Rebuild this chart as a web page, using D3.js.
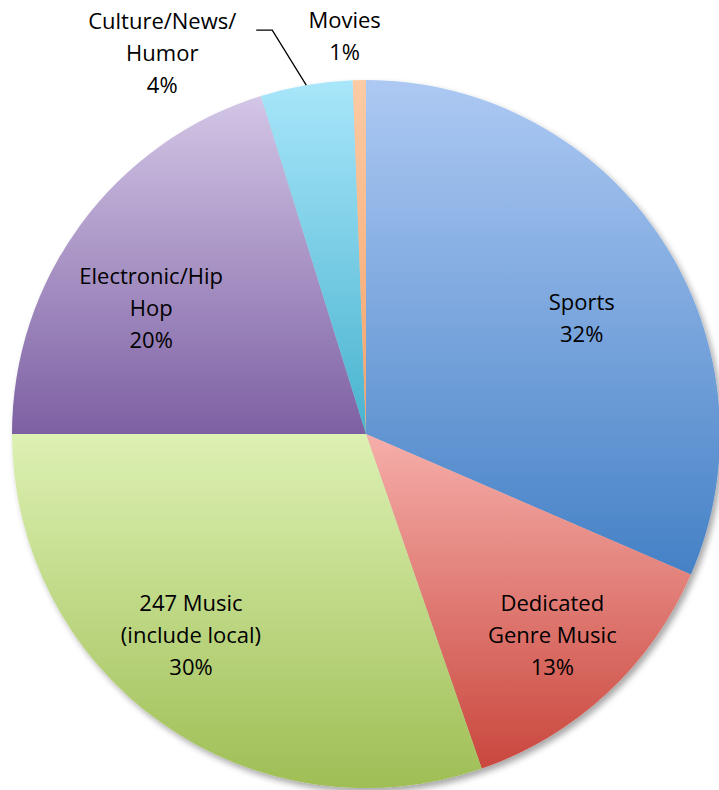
<!DOCTYPE html>
<html>
<head>
<meta charset="utf-8">
<script src="https://cdn.jsdelivr.net/npm/d3@7/dist/d3.min.js"></script>
<style>
  body { margin: 0; background: #ffffff; }
  svg { display: block; }
  text { font-family: "Open Sans", Lato, sans-serif; font-size: 22px; fill: #000; }
</style>
</head>
<body>
<div id="main_output"></div>
<script>
// slice data, clockwise from 12 o'clock
const categories = ["Sports", "Dedicated Genre Music", "247 Music (include local)", "Electronic/Hip Hop", "Culture/News/Humor", "Movies"];
const values = [31.5, 13.2, 30.3, 20.2, 4.2, 0.6];
const pctLabels = ["32%", "13%", "30%", "20%", "4%", "1%"];
const labelLines = [
  ["Sports"],
  ["Dedicated", "Genre Music"],
  ["247 Music", "(include local)"],
  ["Electronic/Hip", "Hop"],
  ["Culture/News/", "Humor"],
  ["Movies"]
];

// office-ish colours: light top -> base bottom
const topColours = ["#adc9f3", "#f6aeaa", "#ddf1b3", "#d3c6e6", "#a9e6fa", "#fbcba5"];
const bottomColours = ["#4581c6", "#c9473d", "#9fbe55", "#7d60a3", "#48b3cf", "#f4a268"];

const W = 719, H = 790;
const cx = 366, cy = 434, radius = 354;
const lineH = 32;

var svg = d3.select("#main_output").append("svg")
  .attr("width", W)
  .attr("height", H);

var defs = svg.append("defs");

var shadow = defs.append("filter")
  .attr("id", "shadow")
  .attr("x", "-10%").attr("y", "-10%")
  .attr("width", "120%").attr("height", "120%");
shadow.append("feDropShadow")
  .attr("dx", 3).attr("dy", 4)
  .attr("stdDeviation", 3)
  .attr("flood-color", "#000")
  .attr("flood-opacity", 0.35);

categories.forEach(function(c, i) {
  var g = defs.append("linearGradient")
    .attr("id", "grad" + i)
    .attr("x1", 0).attr("y1", 0)
    .attr("x2", 0).attr("y2", 1);
  g.append("stop").attr("offset", "0%").attr("stop-color", topColours[i]);
  g.append("stop").attr("offset", "100%").attr("stop-color", bottomColours[i]);
});

var pie = d3.pie().sort(null).value(function(d) { return d; });
var arcs = pie(values);

var arc = d3.arc().innerRadius(0).outerRadius(radius);

var chart = svg.append("g")
  .attr("transform", "translate(" + cx + "," + cy + ")");

chart.append("g")
  .attr("filter", "url(#shadow)")
  .selectAll("path")
  .data(arcs)
  .enter()
  .append("path")
  .attr("d", arc)
  .attr("fill", function(d, i) { return "url(#grad" + i + ")"; });

// label placement: radius and angle nudge for each slice (Excel best fit look)
const labelRadius = [245, 274, 267, 249, 0, 398];
const labelAngleShift = [5, 0, 5.5, -6, 0, -2];

function polar(angleDeg, r) {
  var a = angleDeg * Math.PI / 180;
  return [r * Math.sin(a), -r * Math.cos(a)];
}

arcs.forEach(function(d, i) {
  var mid = (d.startAngle + d.endAngle) / 2 * 180 / Math.PI;
  var lines = labelLines[i].concat([pctLabels[i]]);
  var pos;
  if (i === 4) {
    // outside label with leader line
    var edge = polar(mid, radius);
    var elbow = [edge[0] - 34, edge[1] - 55];
    var end = [elbow[0] - 16, elbow[1]];
    chart.append("polyline")
      .attr("points", [edge, elbow, end].map(function(p) { return p.join(","); }).join(" "))
      .attr("fill", "none")
      .attr("stroke", "#000")
      .attr("stroke-width", 1.3);
    pos = [end[0] - 94, elbow[1] + 23];
  } else {
    pos = polar(mid + labelAngleShift[i], labelRadius[i]);
  }
  var t = chart.append("text")
    .attr("text-anchor", "middle")
    .attr("transform", "translate(" + pos[0] + "," + pos[1] + ")");
  var y0 = -(lines.length - 1) * lineH / 2;
  lines.forEach(function(l, j) {
    t.append("tspan")
      .attr("x", 0)
      .attr("y", y0 + j * lineH)
      .attr("dy", "0.35em")
      .text(l);
  });
});
</script>
</body>
</html>
